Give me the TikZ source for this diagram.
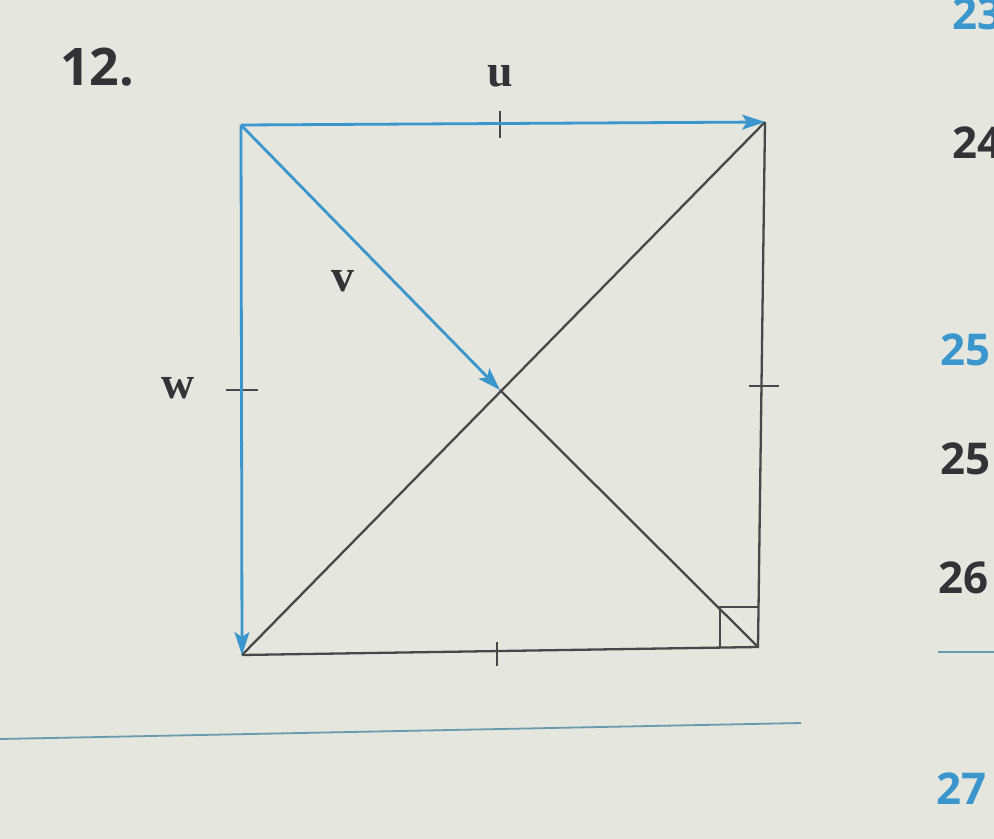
\documentclass[tikz,border=0pt]{standalone}
\usepackage{fontspec}
\setmainfont{Liberation Serif}
\newfontfamily\numfont{Open Sans}
\usetikzlibrary{arrows.meta}
\definecolor{paper}{RGB}{229,230,221}
\definecolor{vblue}{RGB}{58,150,204}
\definecolor{ink}{RGB}{72,72,72}
\definecolor{numdark}{RGB}{50,50,55}
\definecolor{septeal}{RGB}{105,155,175}
\tikzset{
  vec/.style={draw=vblue, line width=2.8bp, -{Stealth[length=23bp,width=15bp,inset=5bp]}},
  edge/.style={draw=ink, line width=2.3bp},
  tick/.style={draw=ink, line width=1.6bp},
  lab/.style={font=\bfseries\fontsize{46}{50}\selectfont, text=numdark, inner sep=0pt},
  num/.style={font=\numfont\bfseries\fontsize{44}{48}\selectfont, inner sep=0pt, anchor=west},
  sepline/.style={draw=septeal, line width=1.8bp}
}
\begin{document}
\begin{tikzpicture}[x=1bp,y=-1bp]
\fill[paper] (0,0) rectangle (994,839);
\useasboundingbox (0,0) rectangle (994,839);
% corners
\coordinate (TL) at (241,125);
\coordinate (TR) at (765,122);
\coordinate (BR) at (758,647);
\coordinate (BL) at (242,655);
\coordinate (C) at (500,390);
% black edges
\draw[edge] (TR) -- (BR) -- (BL);
\draw[edge] (BL) -- (TR);
\draw[edge] (C) -- (BR);
% right-angle box
\coordinate (RA1) at (720,647.5);
\coordinate (RA2) at (720,607);
\coordinate (RA3) at (759,607);
\draw[ink, line width=1.6bp] (RA1) -- (RA2) -- (RA3);
% ticks
\draw[tick] (500,111) -- (500,138);
\draw[tick] (226,390) -- (258,390);
\draw[tick] (749,386) -- (779,386);
\draw[tick] (497,642) -- (497,666);
% blue vectors
\draw[vec] (TL) -- (TR);
\draw[vec] (TL) -- (C);
\draw[vec] (TL) -- (BL);
% labels
\node[lab] (u) at (500,76) {u};
\node[lab] (v) at (343,281) {v};
\node[lab] (w) at (178,388) {w};
\node[font=\numfont\bfseries\fontsize{52}{56}\selectfont, text=numdark, inner sep=0pt] (n12) at (97,67) {12.};
% right column numbers
\node[num, text=vblue] (n23) at (952,14) {23};
\node[num, text=numdark] (n24) at (952,143) {24};
\node[num, text=vblue] (n25a) at (940,350) {25};
\node[num, text=numdark] (n25b) at (940,459) {25};
\node[num, text=numdark] (n26) at (938,578) {26};
\node[num, text=vblue] (n27) at (936,789) {27};
% separator lines
\coordinate (L1a) at (0,739);
\coordinate (L1b) at (801,723);
\draw[sepline] (L1a) -- (L1b);
\coordinate (L2a) at (938,652);
\coordinate (L2b) at (994,652);
\draw[sepline] (L2a) -- (L2b);
\end{tikzpicture}
\end{document}
